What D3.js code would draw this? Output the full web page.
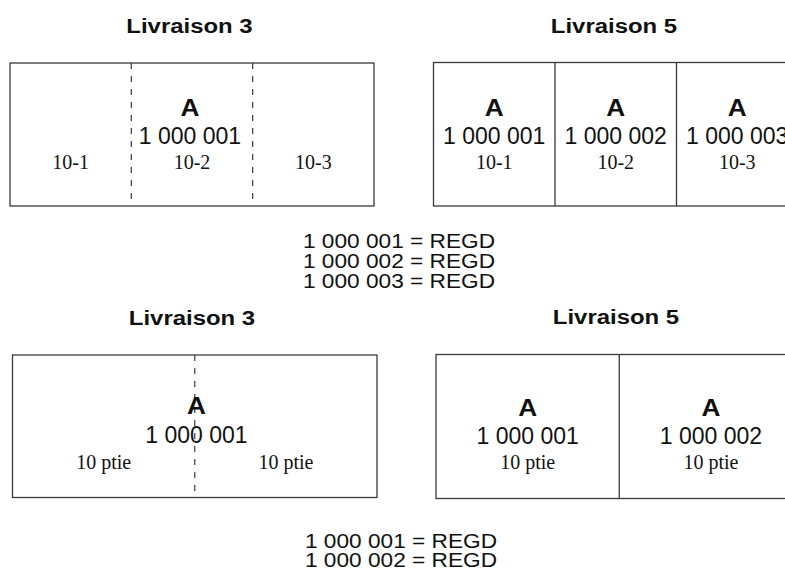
<!DOCTYPE html>
<html><head><meta charset="utf-8">
<script src="https://cdn.jsdelivr.net/npm/d3@7"></script>
<style>body{margin:0;background:#fff}svg{display:block}</style>
</head><body><svg id="c" width="785" height="578"></svg>
<script>
// ---- data ----
const codeLetter = "A";
const titles = ["Livraison 3", "Livraison 5", "Livraison 3", "Livraison 5"];
const splitLabels = ["10-1", "10-2", "10-3"];
const splitNumber = "1 000 001";
const rollNumbers = ["1 000 001", "1 000 002", "1 000 003"];
const halfLabels = ["10 ptie", "10 ptie"];
const halfNumber = "1 000 001";
const rollNumbers2 = ["1 000 001", "1 000 002"];
const legendTop = ["1 000 001 = REGD", "1 000 002 = REGD", "1 000 003 = REGD"];
const legendBottom = ["1 000 001 = REGD", "1 000 002 = REGD"];

// ---- drawing ----
const svg = d3.select("#c");
const SANS = "'Liberation Sans', Arial, sans-serif";
const SERIF = "'Liberation Serif', 'Times New Roman', serif";
const INK = "#111";
const LINE = "#3a3a3a";

function boldText(g, txt, x, y, size) {
  g.append("text")
    .attr("transform", `translate(${x},${y}) scale(1.14,1)`)
    .attr("text-anchor", "middle")
    .attr("font-family", SANS).attr("font-weight", "bold")
    .attr("font-size", size).attr("fill", INK)
    .text(txt);
}
function plainText(g, txt, x, y, size, family) {
  g.append("text")
    .attr("x", x).attr("y", y)
    .attr("text-anchor", "middle")
    .attr("font-family", family).attr("font-size", size).attr("fill", INK)
    .text(txt);
}

const panels = [
  {title: titles[0], tx: 189.5, ty: 33, x0: 10, x1: 374, y0: 63, y1: 206,
   cells: splitLabels, dashed: true, labelY: 168.5,
   shared: {num: splitNumber, cx: 190, aY: 115.5, nY: 143.5}},
  {title: titles[1], tx: 614, ty: 33, x0: 433.5, x1: 798, y0: 62.5, y1: 206,
   cells: splitLabels, dashed: false, labelY: 169,
   nums: rollNumbers, aY: 115.5, nY: 143.5},
  {title: titles[2], tx: 192, ty: 325, x0: 12.5, x1: 377, y0: 355, y1: 497.5,
   cells: halfLabels, dashed: true, labelY: 468.5,
   shared: {num: halfNumber, cx: 196.5, aY: 414, nY: 442.7}},
  {title: titles[3], tx: 616, ty: 323.5, x0: 436, x1: 802.5, y0: 354.5, y1: 498.5,
   cells: halfLabels, dashed: false, labelY: 468.5,
   nums: rollNumbers2, aY: 416, nY: 444}
];

panels.forEach(p => {
  const g = svg.append("g");
  boldText(g, p.title, p.tx, p.ty, 21);

  const x = d3.scaleBand().domain(d3.range(p.cells.length)).range([p.x0, p.x1]).paddingInner(0).paddingOuter(0);

  g.append("rect")
    .attr("x", p.x0).attr("y", p.y0)
    .attr("width", p.x1 - p.x0).attr("height", p.y1 - p.y0)
    .attr("fill", "none").attr("stroke", LINE).attr("stroke-width", 1.3);

  g.selectAll("line.div").data(d3.range(1, p.cells.length)).join("line")
    .attr("x1", i => x(i)).attr("x2", i => x(i))
    .attr("y1", p.y0).attr("y2", p.y1)
    .attr("stroke", LINE).attr("stroke-width", p.dashed ? 1.2 : 1.3)
    .attr("stroke-dasharray", p.dashed ? "6,7" : null);

  p.cells.forEach((lab, i) => {
    const cx = x(i) + x.bandwidth() / 2;
    plainText(g, lab, cx, p.labelY, 20, SERIF);
    if (p.nums) {
      boldText(g, codeLetter, cx, p.aY, 23);
      plainText(g, p.nums[i], cx, p.nY, 23, SANS);
    }
  });
  if (p.shared) {
    boldText(g, codeLetter, p.shared.cx, p.shared.aY, 23);
    plainText(g, p.shared.num, p.shared.cx, p.shared.nY, 23, SANS);
  }
});

const ly = d3.scalePoint().domain(d3.range(legendTop.length)).range([248, 288]);
legendTop.forEach((t, i) => {
  svg.append("text").attr("transform", `translate(399,${ly(i)}) scale(1.08,1)`)
    .attr("text-anchor", "middle").attr("font-family", SANS).attr("font-size", 21)
    .attr("fill", INK).text(t);
});
const ly2 = d3.scalePoint().domain(d3.range(legendBottom.length)).range([547.5, 567]);
legendBottom.forEach((t, i) => {
  svg.append("text").attr("transform", `translate(401,${ly2(i)}) scale(1.08,1)`)
    .attr("text-anchor", "middle").attr("font-family", SANS).attr("font-size", 21)
    .attr("fill", INK).text(t);
});
</script></body></html>
